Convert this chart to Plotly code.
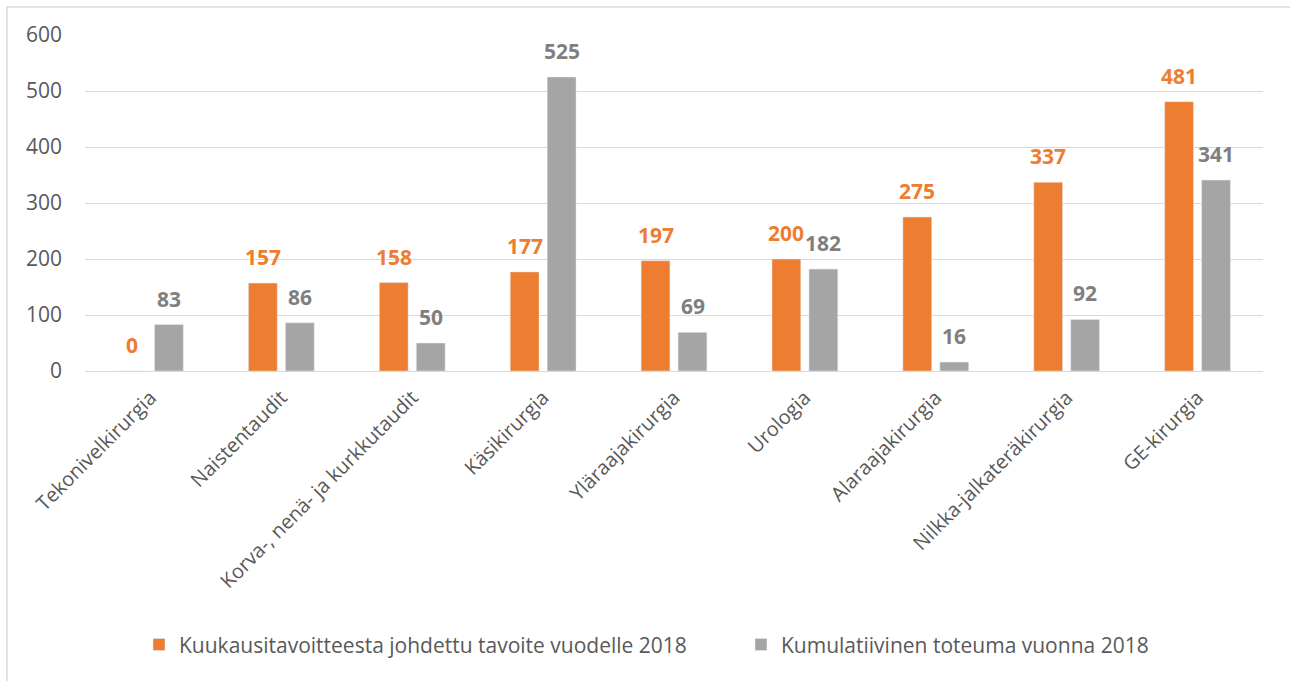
import plotly.graph_objects as go

categories = ["Tekonivelkirurgia", "Naistentaudit", "Korva-, nenä- ja kurkkutaudit", "Käsikirurgia",
              "Yläraajakirurgia", "Urologia", "Alaraajakirurgia", "Nilkka-jalkateräkirurgia", "GE-kirurgia"]
target = [0, 157, 158, 177, 197, 200, 275, 337, 481]
actual = [83, 86, 50, 525, 69, 182, 16, 92, 341]
series_names = ["Kuukausitavoitteesta johdettu tavoite vuodelle 2018", "Kumulatiivinen toteuma vuonna 2018"]
y_ticks = [0, 100, 200, 300, 400, 500, 600]

FONT = "Open Sans"
ORANGE = "#ED7D31"
GRAY = "#A5A5A5"
LABEL_GRAY = "#7F7F7F"

fig = go.Figure()
fig.add_trace(go.Bar(
    x=categories, y=target, name=series_names[0], marker_color=ORANGE,
    legend="legend", hoverinfo="x+y",
))
fig.add_trace(go.Bar(
    x=categories, y=actual, name=series_names[1], marker_color=GRAY,
    legend="legend2", hoverinfo="x+y",
))

# value labels, placed above each bar of the group through the data scales
annotations = []
for values, color, shift in ((target, ORANGE, -18.5), (actual, LABEL_GRAY, 18.5)):
    for cat, v in zip(categories, values):
        annotations.append(dict(
            x=cat, y=v, xref="x", yref="y", text=str(v), showarrow=False,
            xanchor="center", yanchor="bottom", xshift=shift, yshift=10,
            font=dict(family=FONT, size=21, color=color, weight="bold"),
        ))

PW = 1178.0
legend_common = dict(orientation="h", xanchor="left", y=-0.815, yanchor="middle",
                     font=dict(family=FONT, size=21, color="#595959"), itemwidth=30,
                     bgcolor="rgba(0,0,0,0)")

fig.update_layout(
    width=1290, height=681,
    margin=dict(l=85, r=27, t=35, b=310),
    paper_bgcolor="white", plot_bgcolor="white",
    barmode="group", bargap=0.435, bargroupgap=0.22,
    font=dict(family=FONT, color="#595959"),
    showlegend=True,
    legend=dict(x=(139 - 85) / PW, **legend_common),
    legend2=dict(x=(741 - 85) / PW, **legend_common),
    annotations=annotations,
    xaxis=dict(tickangle=-45, tickfont=dict(family=FONT, size=20, color="#595959"),
               showgrid=False, showline=False, ticks="", ticklabelstandoff=10),
    yaxis=dict(range=[0, 600], tickvals=y_ticks, ticktext=[str(t) for t in y_ticks],
               tickfont=dict(family=FONT, size=21, color="#595959"),
               showgrid=True, gridcolor="#D9D9D9", gridwidth=1.3, zeroline=True,
               zerolinecolor="#D9D9D9", zerolinewidth=1.3, ticks="", ticklabelstandoff=22),
    shapes=[dict(type="rect", xref="paper", yref="paper",
                 x0=(7 - 85) / PW, x1=(1295 - 85) / PW,
                 y0=(371 - 700) / 336, y1=(371 - 7) / 336,
                 line=dict(color="#D9D9D9", width=1.5), fillcolor="rgba(0,0,0,0)", layer="below")],
)

fig.write_html("out.html", config={"displayModeBar": False},
               post_script="document.body.style.margin='0';document.body.style.overflow='hidden';")
